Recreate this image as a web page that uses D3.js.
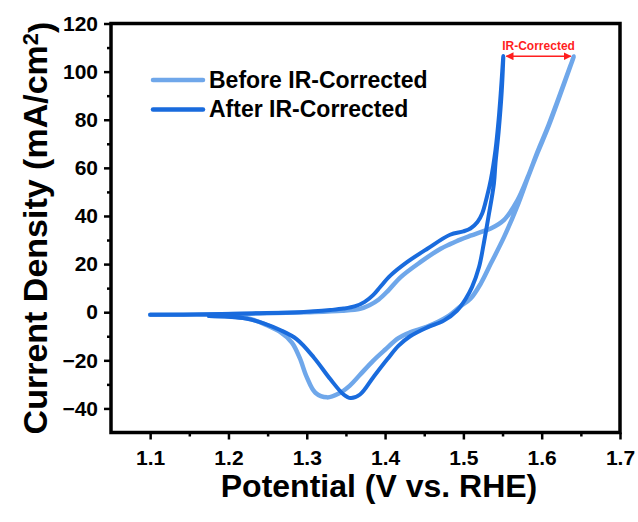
<!DOCTYPE html>
<html>
<head>
<meta charset="utf-8">
<script src="https://cdn.jsdelivr.net/npm/d3@7/dist/d3.min.js"></script>
<style>
  html, body { margin: 0; padding: 0; background: #fff; }
  svg { display: block; }
  text { font-family: "Liberation Sans", Arial, Helvetica, sans-serif; font-weight: bold; }
</style>
</head>
<body>
<svg id="chart" width="638" height="522"></svg>
<script>
// Cyclic voltammetry loops: potential (V vs. RHE) and current density (mA/cm2)
const beforeV = [1.100, 1.200, 1.300, 1.345, 1.368, 1.380, 1.392, 1.404, 1.420, 1.445, 1.471, 1.483, 1.496, 1.509, 1.522, 1.535, 1.552, 1.569, 1.582, 1.595, 1.609, 1.641,
                 1.609, 1.595, 1.583, 1.570, 1.552, 1.535, 1.522, 1.509, 1.496, 1.479, 1.454, 1.432, 1.417, 1.400, 1.385, 1.368, 1.355, 1.341, 1.326, 1.311, 1.300, 1.291, 1.281, 1.266, 1.249, 1.228, 1.200, 1.175];
const beforeJ = [-1.1, -0.8, 0.0, 0.6, 1.4, 2.9, 5.3, 9.0, 14.6, 20.8, 26.4, 28.3, 30.2, 31.8, 33.3, 34.8, 38.4, 46.5, 56.0, 67.0, 78.0, 106.3,
                 77.5, 66.5, 56.5, 45.0, 31.3, 20.2, 11.8, 5.6, 2.4, -2.0, -6.0, -8.4, -10.8, -15.6, -20.1, -26.0, -30.5, -33.8, -35.4, -33.5, -27.0, -19.0, -12.6, -8.2, -5.4, -2.8, -1.8, -1.5];

const afterV = [1.100, 1.175, 1.230, 1.292, 1.330, 1.347, 1.362, 1.374, 1.385, 1.394, 1.407, 1.428, 1.454, 1.483, 1.500, 1.509, 1.518, 1.524, 1.530, 1.535, 1.541, 1.545, 1.548, 1.551,
                1.549, 1.545, 1.541, 1.539, 1.532, 1.526, 1.520, 1.511, 1.503, 1.492, 1.475, 1.454, 1.432, 1.417, 1.403, 1.385, 1.368, 1.356, 1.347, 1.330, 1.309, 1.287, 1.266, 1.245, 1.222, 1.200, 1.175];
const afterJ = [-1.1, -0.9, -0.5, 0.0, 0.9, 1.5, 2.5, 4.3, 7.2, 10.6, 15.3, 20.8, 26.4, 32.2, 33.6, 34.8, 37.5, 41.0, 47.9, 55.0, 67.4, 80.0, 92.4, 106.5,
                92.0, 75.0, 62.0, 53.5, 39.6, 28.5, 18.75, 10.4, 5.6, 0.7, -3.5, -6.3, -10.0, -14.0, -19.5, -27.0, -34.2, -35.7, -34.2, -27.8, -18.8, -11.2, -7.4, -4.6, -2.6, -1.9, -1.6];

const seriesNames = ["Before IR-Corrected", "After IR-Corrected"];
const seriesColors = ["#6fa7ea", "#196bdd"];

const xTicks = [1.1, 1.2, 1.3, 1.4, 1.5, 1.6, 1.7];
const xMinorTicks = [1.15, 1.25, 1.35, 1.45, 1.55, 1.65];
const yTicks = [-40, -20, 0, 20, 40, 60, 80, 100, 120];
const yMinorTicks = [-30, -10, 10, 30, 50, 70, 90, 110];

const svg = d3.select("#chart");
const x = d3.scaleLinear().domain([1.05, 1.7]).range([111, 620]);
const y = d3.scaleLinear().domain([-50, 120]).range([432.5, 23.5]);

const toPoints = (vs, js) => vs.map((v, i) => [v, js[i]]);
const series = [toPoints(beforeV, beforeJ), toPoints(afterV, afterJ)];

const line = d3.line()
  .x(d => x(d[0]))
  .y(d => y(d[1]))
  .curve(d3.curveCatmullRom.alpha(0.5));

// curves
svg.append("g").selectAll("path")
  .data(series)
  .join("path")
  .attr("d", line)
  .attr("fill", "none")
  .attr("stroke", (d, i) => seriesColors[i])
  .attr("stroke-width", (d, i) => i === 0 ? 4.5 : 4)
  .attr("stroke-linecap", "round")
  .attr("stroke-linejoin", "round");

// axes
const fmtX = d3.format(".1f");
const xAxis = d3.axisBottom(x).tickValues(xTicks).tickFormat(fmtX).tickSize(7).tickSizeOuter(0).tickPadding(11);
const xMinor = d3.axisBottom(x).tickValues(xMinorTicks).tickFormat("").tickSize(4).tickSizeOuter(0);
const yAxis = d3.axisLeft(y).tickValues(yTicks).tickFormat(d => d < 0 ? "\u2212" + Math.abs(d) : d).tickSize(7).tickSizeOuter(0).tickPadding(6);
const yMinor = d3.axisLeft(y).tickValues(yMinorTicks).tickFormat("").tickSize(4).tickSizeOuter(0);

function styleAxis(g) {
  g.select(".domain").remove();
  g.selectAll(".tick line").attr("stroke", "#000").attr("stroke-width", 2.5);
  g.selectAll(".tick text").style("font-size", "21px").style("fill", "#000");
}

svg.append("g").attr("transform", `translate(0,${y(-50)})`).call(xAxis).call(styleAxis);
svg.append("g").attr("transform", `translate(0,${y(-50)})`).call(xMinor).call(styleAxis);
svg.append("g").attr("transform", `translate(${x(1.05)},0)`).call(yAxis).call(styleAxis);
svg.append("g").attr("transform", `translate(${x(1.05)},0)`).call(yMinor).call(styleAxis);

// frame
svg.append("rect")
  .attr("x", x(1.05)).attr("y", y(120))
  .attr("width", x(1.7) - x(1.05)).attr("height", y(-50) - y(120))
  .attr("fill", "none").attr("stroke", "#000").attr("stroke-width", 3.5);

// axis titles
svg.append("text")
  .attr("x", 379).attr("y", 497)
  .attr("text-anchor", "middle")
  .style("font-size", "32px").style("fill", "#000")
  .text("Potential (V vs. RHE)");

const yTitle = svg.append("text")
  .attr("transform", "translate(47,228) rotate(-90)")
  .attr("text-anchor", "middle")
  .style("font-size", "34px").style("fill", "#000");
yTitle.append("tspan").text("Current Density (mA/cm");
yTitle.append("tspan").attr("dy", "-0.42em").style("font-size", "22px").text("2");
yTitle.append("tspan").attr("dy", "0.42em").text(")");

// legend
const legend = svg.append("g");
seriesNames.forEach((name, i) => {
  const ly = 80 + i * 29.5;
  legend.append("line")
    .attr("x1", 153).attr("x2", 203).attr("y1", ly).attr("y2", ly)
    .attr("stroke", seriesColors[i]).attr("stroke-width", 4.5).attr("stroke-linecap", "round");
  legend.append("text")
    .attr("x", 209).attr("y", ly + 7.5)
    .style("font-size", "23px").style("fill", "#000")
    .text(name);
});

// IR-correction shift between the two loop tips
const tipBefore = series[0].reduce((a, b) => (b[1] > a[1] ? b : a));
const tipAfter = series[1].reduce((a, b) => (b[1] > a[1] ? b : a));
const red = "#ff1f1f";
const defs = svg.append("defs");
["start", "end"].forEach(k => {
  defs.append("marker")
    .attr("id", "arrow-" + k)
    .attr("viewBox", "0 0 10 10")
    .attr("refX", 9).attr("refY", 5)
    .attr("markerWidth", 5).attr("markerHeight", 5)
    .attr("orient", k === "start" ? "auto-start-reverse" : "auto")
    .append("path").attr("d", "M0,0 L10,5 L0,10 Z").attr("fill", red);
});
const arrowY = y((tipBefore[1] + tipAfter[1]) / 2);
svg.append("line")
  .attr("x1", x(tipAfter[0]) + 3).attr("x2", x(tipBefore[0]) - 3)
  .attr("y1", arrowY).attr("y2", arrowY)
  .attr("stroke", red).attr("stroke-width", 1.6)
  .attr("marker-start", "url(#arrow-start)")
  .attr("marker-end", "url(#arrow-end)");
svg.append("text")
  .attr("x", (x(tipAfter[0]) + x(tipBefore[0])) / 2).attr("y", arrowY - 6)
  .attr("text-anchor", "middle")
  .style("font-size", "12px").style("fill", red)
  .text("IR-Corrected");
</script>
</body>
</html>
